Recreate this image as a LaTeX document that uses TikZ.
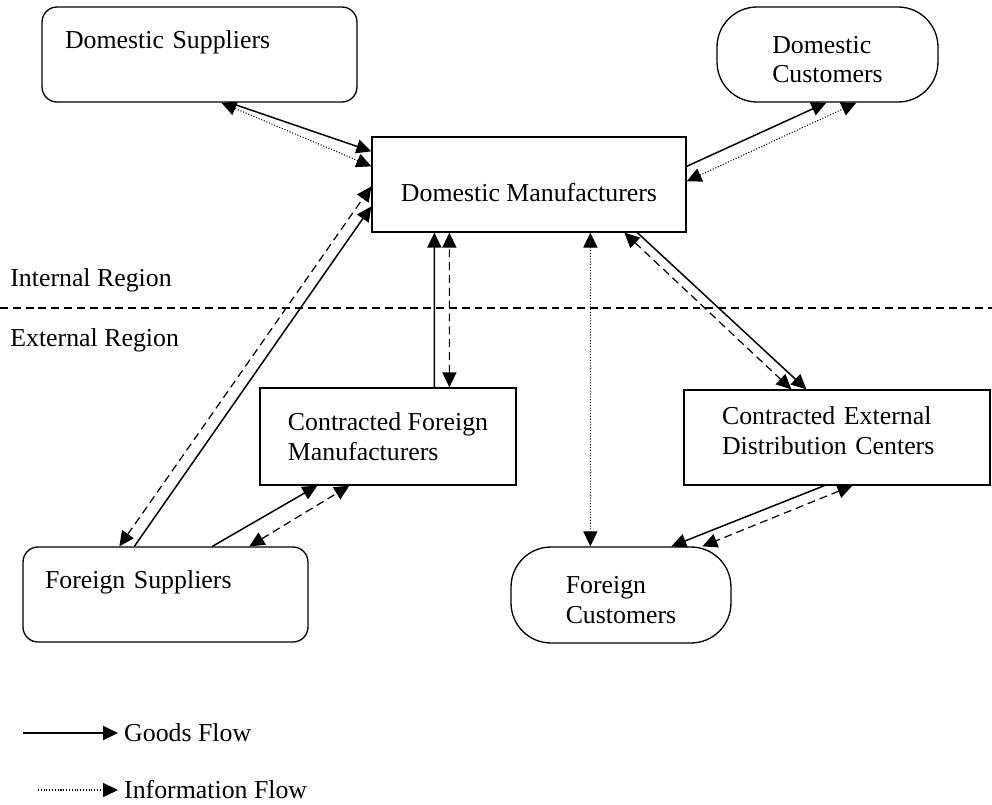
\documentclass[tikz,border=0pt]{standalone}
\usepackage{fontspec}
\setmainfont{Liberation Serif}
\usetikzlibrary{arrows.meta,calc}

\begin{document}
\begin{tikzpicture}[x=0.02cm, y=-0.02cm,
    font=\fontsize{14.7pt}{17pt}\selectfont,
    >={Triangle[length=8.5pt,width=8pt]},
    box/.style={draw, line width=0.75pt, inner sep=0pt, minimum height=1.9cm},
    goods/.style={line width=0.85pt, ->},
    info/.style={line width=0.6pt, densely dotted, <->},
    contract/.style={line width=0.7pt, dash pattern=on 4.5pt off 2.8pt, <->},
    regionline/.style={line width=0.7pt, dash pattern=on 4.5pt off 2.8pt}]
  \useasboundingbox (0,0) rectangle (992,805);

  % partners
  \node[box, rounded corners=0.3cm, minimum width=6.3cm, text width=5.38cm, align=left] (ds) at (199.5,54.5) {Domestic Suppliers\\ \mbox{}};
  \node[box, rounded corners=0.8cm, minimum width=4.42cm, align=left] (dc) at (827.5,54.5) {\rule{0pt}{15.5pt}Domestic\\Customers};
  \node[box, minimum width=6.28cm] (dm) at (529,184.5) {\rule{0pt}{19pt}Domestic Manufacturers};
  \node[box, minimum width=5.12cm, minimum height=1.94cm, align=left] (cfm) at (388,436.5) {Contracted Foreign\\Manufacturers};
  \node[box, minimum width=6.12cm, text width=4.6cm, align=left] (cedc) at (837,437.5) {Contracted External\\Distribution Centers\rule[-8pt]{0pt}{8pt}};
  \node[box, rounded corners=0.3cm, minimum width=5.7cm, text width=4.82cm, align=left] (fs) at (165.5,594.5) {Foreign Suppliers\\ \mbox{}};
  \node[box, rounded corners=0.8cm, minimum width=4.4cm, minimum height=1.92cm, align=left] (fc) at (621,595) {\rule{0pt}{15.5pt}Foreign\\Customers};

  % regions
  \node[anchor=west, inner sep=0pt] (internal) at (10,280) {Internal Region};
  \node[anchor=west, inner sep=0pt] (external) at (10,340) {External Region};
  \draw[regionline] (0,308) -- (992,308);

  % goods flows
  \draw[goods] ($(ds.south west)+(188,0)$) -- ($(dm.north west)+(0,15)$);
  \draw[goods] ($(dm.north east)+(0,30)$) -- ($(dc.south west)+(110,0)$);
  \draw[goods] ($(fs.north west)+(112,0)$) -- ($(dm.north west)+(0,70)$);
  \draw[goods] ($(cfm.north west)+(175,0)$) -- ($(dm.south west)+(63,0)$);
  \draw[goods] ($(fs.north west)+(190,0)$) -- ($(cfm.south west)+(58,0)$);
  \draw[goods] ($(dm.south west)+(266,0)$) -- ($(cedc.north west)+(123,0)$);
  \draw[goods] ($(cedc.south west)+(141,0)$) -- ($(fc.north west)+(161,0)$);

  % information flows
  \draw[info] ($(dm.north west)+(0,30)$) -- ($(ds.south west)+(180,0)$);
  \draw[info] ($(dm.north east)+(0,45)$) -- ($(dc.south west)+(140,0)$);
  \draw[info] ($(dm.south west)+(219,0)$) -- ($(fc.north west)+(80,0)$);

  % contract flows
  \draw[contract] ($(fs.north west)+(97,0)$) -- ($(dm.north west)+(0,50)$);
  \draw[contract] ($(cfm.north west)+(190,0)$) -- ($(dm.south west)+(78,0)$);
  \draw[contract] ($(fs.north west)+(227,0)$) -- ($(cfm.south west)+(90,0)$);
  \draw[contract] ($(dm.south west)+(253,0)$) -- ($(cedc.north west)+(108,0)$);
  \draw[contract] ($(cedc.south west)+(169,0)$) -- ($(fc.north west)+(192,0)$);

  % legend
  \coordinate (goodsstart) at (23,733);
  \node[anchor=west] (goodslbl) at (118,733) {Goods Flow};
  \draw[goods] (goodsstart) -- (goodslbl.west);
  \coordinate (infostart) at (38,790);
  \node[anchor=west] (infolbl) at (118,790) {Information Flow};
  \draw[info, ->] (infostart) -- (infolbl.west);
\end{tikzpicture}
\end{document}
